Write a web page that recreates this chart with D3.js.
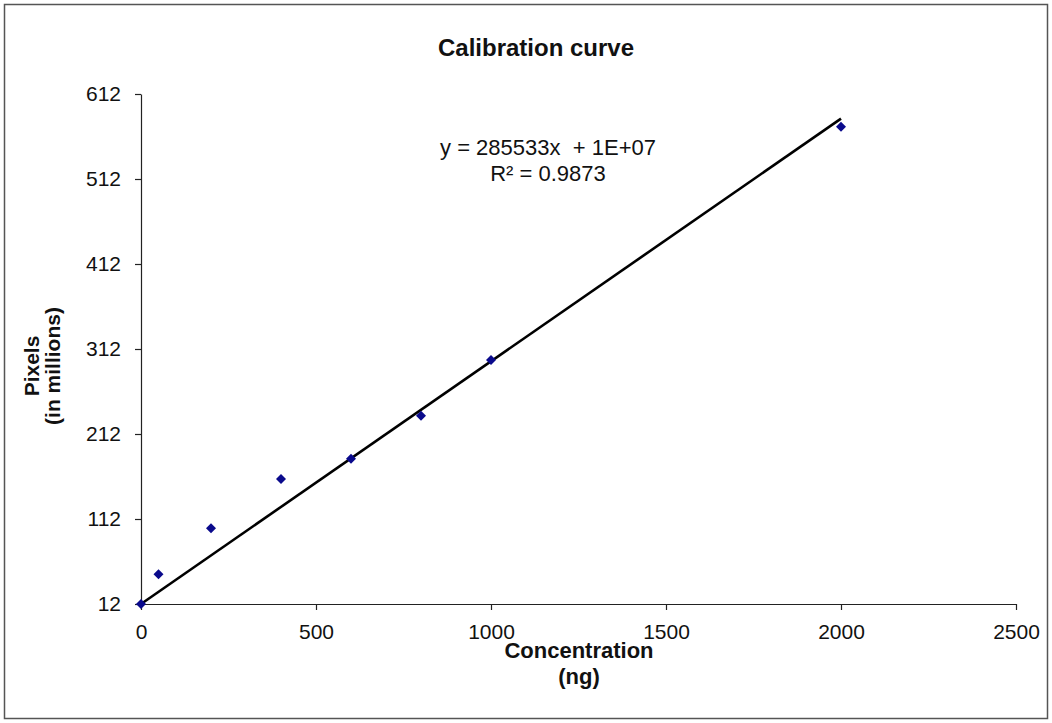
<!DOCTYPE html>
<html>
<head>
<meta charset="utf-8">
<script src="https://cdn.jsdelivr.net/npm/d3@7"></script>
<style>
  html, body { margin: 0; padding: 0; background: #fff; }
  svg { display: block; font-family: "Liberation Sans", Arial, sans-serif; }
</style>
</head>
<body>
<svg id="chart" width="1052" height="723"></svg>
<script>
// ---- data ----
const concentrations = [0, 50, 200, 400, 600, 800, 1000, 2000];
const pixelsMillions = [12, 47, 101, 159, 183, 233.5, 299, 573.5];
const xTicks = [0, 500, 1000, 1500, 2000, 2500];
const yTicks = [12, 112, 212, 312, 412, 512, 612];
const trendSlope = 0.285533;      // millions per ng
const trendIntercept = 12;        // millions (shown as 1E+07)
const trendRange = [0, 2000];
const titleText = "Calibration curve";
const xTitle = ["Concentration", "(ng)"];
const yTitle = ["Pixels", "(in millions)"];
const equationLines = ["y = 285533x  + 1E+07", "R\u00B2 = 0.9873"];

// ---- layout ----
const svg = d3.select("#chart");
const W = 1052, H = 723;
const plot = { left: 141, right: 1016, top: 94, bottom: 604 };
const FONT = "'Liberation Sans', Arial, sans-serif";

svg.append("rect")
  .attr("x", 4.5).attr("y", 4.5)
  .attr("width", W - 9).attr("height", H - 9)
  .attr("fill", "#fff").attr("stroke", "#555").attr("stroke-width", 1.5);

const x = d3.scaleLinear().domain([0, 2500]).range([plot.left, plot.right]);
const y = d3.scaleLinear().domain([12, 612]).range([plot.bottom, plot.top]);

// axes
const xAxis = svg.append("g")
  .attr("transform", `translate(0,${plot.bottom})`)
  .call(d3.axisBottom(x).tickValues(xTicks).tickFormat(d3.format("d"))
    .tickSize(6).tickPadding(14).tickSizeOuter(0));
const yAxis = svg.append("g")
  .attr("transform", `translate(${plot.left},0)`)
  .call(d3.axisLeft(y).tickValues(yTicks).tickFormat(d3.format("d"))
    .tickSize(6).tickPadding(14).tickSizeOuter(0));

[xAxis, yAxis].forEach(g => {
  g.select(".domain").attr("stroke", "#222").attr("stroke-width", 1.2);
  g.selectAll(".tick line").attr("stroke", "#222").attr("stroke-width", 1.2);
  g.selectAll(".tick text")
    .attr("fill", "#111")
    .style("font-size", "21px")
    .style("font-family", FONT);
});

// trendline
svg.append("line")
  .attr("x1", x(trendRange[0])).attr("y1", y(trendIntercept + trendSlope * trendRange[0]))
  .attr("x2", x(trendRange[1])).attr("y2", y(trendIntercept + trendSlope * trendRange[1]))
  .attr("stroke", "#000").attr("stroke-width", 2.6);

// points
const pts = concentrations.map((c, i) => ({ c, v: pixelsMillions[i] }));
svg.append("g").selectAll("path")
  .data(pts).join("path")
  .attr("d", d3.symbol().type(d3.symbolSquare).size(50))
  .attr("transform", d => `translate(${x(d.c)},${y(d.v)}) rotate(45)`)
  .attr("fill", "#0a0a8c");

// title
svg.append("text")
  .attr("x", 536).attr("y", 56)
  .attr("text-anchor", "middle")
  .style("font-size", "24px").style("font-weight", "bold")
  .attr("fill", "#111")
  .text(titleText);

// equation
svg.append("g").selectAll("text")
  .data(equationLines).join("text")
  .attr("x", 548).attr("y", (d, i) => 155 + i * 26)
  .attr("text-anchor", "middle")
  .style("font-size", "22px")
  .style("white-space", "pre")
  .attr("fill", "#111")
  .text(d => d);

// x title
svg.append("g").selectAll("text")
  .data(xTitle).join("text")
  .attr("x", 579).attr("y", (d, i) => 658 + i * 26)
  .attr("text-anchor", "middle")
  .style("font-size", "22px").style("font-weight", "bold")
  .attr("fill", "#111")
  .text(d => d);

// y title
svg.append("g").selectAll("text")
  .data(yTitle).join("text")
  .attr("transform", (d, i) => `translate(${39 + i * 21},${366}) rotate(-90)`)
  .attr("text-anchor", "middle")
  .style("font-size", "21px").style("font-weight", "bold")
  .attr("fill", "#111")
  .text(d => d);
</script>
</body>
</html>
